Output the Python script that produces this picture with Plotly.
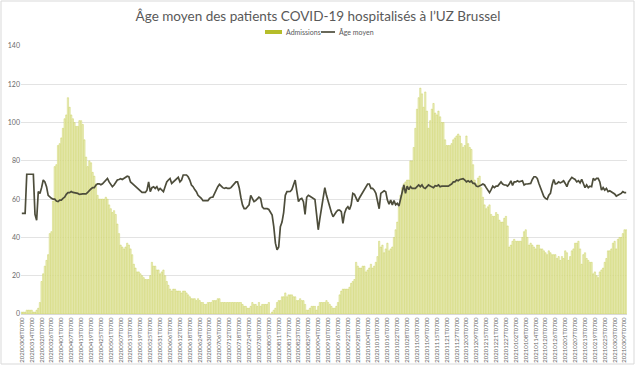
import pandas as pd
import plotly.graph_objects as go

start_date = "2020-03-08"

admissions = [
    1, 1, 1, 2, 2, 2, 2, 1, 1, 2,
    3, 6, 17, 21, 25, 28, 31, 42, 43, 59,
    77, 78, 88, 89, 92, 97, 102, 104, 113, 108,
    104, 102, 100, 98, 98, 101, 101, 99, 91, 82,
    77, 80, 79, 74, 72, 68, 62, 60, 60, 60,
    60, 61, 60, 57, 55, 53, 54, 52, 47, 42,
    36, 35, 34, 35, 37, 36, 34, 31, 26, 24,
    22, 22, 21, 20, 19, 18, 18, 18, 20, 27,
    25, 25, 23, 23, 21, 22, 23, 20, 17, 15,
    13, 12, 13, 13, 12, 12, 12, 11, 12, 12,
    11, 10, 9, 8, 8, 8, 7, 8, 7, 6,
    6, 5, 5, 6, 6, 6, 7, 7, 7, 8,
    8, 6, 6, 6,
    6, 6, 6, 6, 6, 6, 6, 6, 6, 6,
    5, 4, 4, 3, 3, 4, 6, 5, 5, 4,
    6, 4, 5, 5, 5, 5, 6, 0, 1, 2,
    3, 6, 7, 7, 9, 9, 11, 9, 10, 10,
    10, 9, 9, 7, 7, 8, 7, 7, 5, 2,
    2, 3, 4, 4, 4, 2, 4, 6, 6, 6,
    6, 7, 6, 5, 4, 3, 3, 4, 6, 10,
    12, 13, 13, 13, 13, 14, 16, 17, 18, 27,
    25, 24, 24, 25, 25, 22, 23, 24, 26, 24,
    25, 27, 30, 38, 35, 36, 32, 34, 37, 33,
    34, 35, 40, 44, 48, 56, 62, 66, 68, 69,
    70, 70, 80, 80, 87, 97, 107, 113, 118, 115,
    108, 116, 106, 97, 101, 107, 110,
    105, 104, 106, 103, 100, 100, 91, 88, 88, 88,
    89, 91, 92, 93, 94, 93, 89, 87, 88, 93,
    89, 87, 86, 78, 70, 68, 71, 72, 66, 61,
    57, 55, 56, 57, 52, 51, 51, 53, 52, 49,
    48, 48, 50, 51, 46, 35, 36, 38, 39, 38,
    38, 38, 38, 40, 43, 44, 40, 36, 37, 36,
    35, 34, 36, 36, 34, 34, 33, 32, 31, 33,
    32, 31, 31, 31, 29, 30, 28, 30, 29, 33,
    32, 28, 30, 33, 34, 37, 37, 38, 34, 26,
    31, 32, 29, 28, 27, 27, 21, 22, 20, 19,
    22, 23, 24, 27, 29, 33, 33, 34, 37, 38,
    34, 39, 40, 40, 42, 44, 44,
]

age_moyen = [
    52.6, 52.6, 52.6, 73.0, 73.0, 73.0, 73.0, 73.0, 52.0, 49.0,
    64.0, 63.0, 66.0, 70.0, 69.0, 66.5, 62.0, 61.0, 60.4, 60.0,
    60.0, 59.0, 58.7, 59.5, 59.5, 60.4, 61.0, 62.5, 63.4, 63.4,
    64.0, 63.5, 63.4, 63.0, 63.0, 62.5, 62.7, 62.7, 62.7, 62.7,
    63.5, 64.7, 65.3, 66.0, 66.0, 67.4, 68.0, 68.0, 67.5, 68.0,
    68.8, 69.6, 70.8, 69.0, 67.4, 66.5, 67.4, 68.8, 70.0, 70.3,
    70.7, 70.3, 70.8, 71.7, 72.0, 71.7, 69.0, 68.2, 67.4, 66.5,
    65.6, 64.7, 63.9, 63.5, 63.5, 63.5, 64.7, 69.0, 63.9, 66.0,
    66.5, 65.6, 66.5, 64.7, 65.6, 64.7, 63.9, 66.5, 69.0, 70.0,
    70.8, 68.2, 69.0, 70.0, 70.3, 71.4, 69.0, 70.0, 72.6, 72.6,
    72.6, 71.7, 70.0, 67.4, 66.5, 65.0, 63.9, 62.0, 61.3, 60.4,
    59.2, 59.2, 59.2, 59.2, 60.4, 61.0, 61.0, 63.0, 65.0, 66.5,
    67.7, 66.8, 66.0, 65.6,
    66.0, 65.6, 65.6, 66.0, 67.0, 68.0, 69.0, 69.0, 66.0, 61.0,
    57.0, 55.0, 55.0, 56.0, 57.0, 62.0, 60.4, 58.7, 59.2, 60.4,
    61.0, 60.4, 56.0, 55.0, 55.0, 55.0, 54.6, 53.0, 51.7, 45.6,
    37.0, 33.5, 35.0, 45.6, 48.0, 53.0, 62.0, 63.9, 63.9, 64.0,
    65.0, 67.4, 70.0, 64.0, 58.7, 60.0, 60.4, 58.7, 52.0, 61.0,
    62.0, 61.5, 60.8, 60.4, 59.8, 52.0, 44.0, 50.0, 56.0, 62.0,
    66.0, 62.0, 58.5, 56.4, 53.0, 50.8, 52.3, 53.4, 54.3, 54.3,
    53.5, 47.3, 52.6, 55.0, 56.0, 54.6, 57.0, 63.0, 62.5, 60.4,
    58.7, 60.6, 62.0, 63.2, 64.7, 66.5, 67.9, 67.9, 65.6, 65.6,
    64.7, 63.0, 58.7, 55.0, 63.0, 63.9, 64.4, 63.9, 59.5, 57.4,
    59.5, 57.0, 59.2, 57.0, 57.8, 56.4, 60.4, 64.7, 67.4, 63.0,
    66.8, 65.0, 66.5, 65.6, 65.6, 65.6, 66.5, 67.4, 66.5, 67.4,
    66.0, 65.6, 66.5, 67.4, 66.8, 66.5, 66.0,
    67.0, 66.8, 67.4, 66.5, 66.8, 66.8, 66.8, 67.0, 66.8, 67.4,
    67.9, 69.0, 69.0, 70.0, 69.6, 70.3, 70.7, 70.7, 70.0, 69.0,
    69.6, 69.0, 69.5, 68.2, 68.2, 66.8, 66.5, 66.8, 67.4, 67.9,
    67.4, 66.0, 64.7, 63.4, 65.0, 66.8, 66.0, 66.8, 66.8, 68.2,
    69.0, 67.9, 67.4, 67.4, 66.8, 67.9, 69.6, 67.2, 69.0, 69.0,
    69.6, 69.0, 69.5, 69.6, 67.4, 67.9, 67.9, 68.2, 68.2, 70.3,
    71.7, 71.7, 70.8, 68.2, 65.6, 63.0, 61.3, 60.4, 59.9, 62.0,
    63.0, 67.4, 70.3, 67.9, 68.2, 69.0, 68.5, 69.0, 69.6, 68.2,
    66.5, 69.0, 70.0, 71.4, 70.8, 70.3, 69.0, 69.6, 68.5, 70.3,
    68.2, 66.0, 67.4, 66.0, 66.8, 66.5, 70.8, 70.0, 70.8, 70.8,
    69.0, 64.7, 66.0, 64.7, 65.6, 63.9, 64.4, 63.9, 63.4, 62.7,
    61.6, 62.0, 62.7, 63.0, 63.9, 63.4, 63.4,
]

n = len(admissions)
dates = pd.date_range(start_date, periods=n, freq="D")
categories = [d.strftime("%Y%m%dT0700") for d in dates]
tick_step = 6
tick_idx = list(range(0, n, tick_step))
tick_labels = [categories[i] for i in tick_idx]
y_ticks = [0, 20, 40, 60, 80, 100, 120, 140]

x = list(range(n))
BAR_FILL = "#eef0ca"
BAR_EDGE = "#c3c943"
LINE_COL = "#4d4d3b"

fig = go.Figure()
fig.add_trace(go.Bar(
    x=x, y=admissions, name="Admissions",
    marker=dict(color=BAR_FILL, line=dict(color=BAR_EDGE, width=0.4)),
    hovertext=categories, showlegend=False,
))
fig.add_trace(go.Scatter(
    x=x, y=age_moyen, name="Âge moyen", mode="lines",
    line=dict(color=LINE_COL, width=1.7),
    hovertext=categories, showlegend=False,
))

L, R, T, B = 21, 9, 46, 52
W, H = 636, 366
pw, ph = W - L - R, H - T - B


def px_x(p):
    return (p - L) / pw


def px_y(p):
    return (H - B - p) / ph


legend_y = 32
fig.update_layout(
    width=W, height=H,
    margin=dict(l=L, r=R, t=T, b=B),
    paper_bgcolor="white", plot_bgcolor="white",
    font=dict(family="Lato, 'Open Sans', sans-serif", color="#595959"),
    title=dict(
        text="Âge moyen des patients COVID-19 hospitalisés à l’UZ Brussel",
        x=0.5, xanchor="center", y=1 - 16 / H, yanchor="middle",
        font=dict(size=13.5, color="#595959"),
    ),
    showlegend=False,
    bargap=0.2,
    xaxis=dict(
        range=[-0.5, n - 0.5], tickmode="array", tickvals=tick_idx, ticktext=tick_labels,
        tickangle=-90, tickfont=dict(size=6, color="#6a6a6a"),
        showgrid=False, zeroline=False, showline=True, linecolor="#d9d9d9", linewidth=1,
        ticks="", automargin=False,
    ),
    yaxis=dict(
        range=[0, 140], tickmode="array", tickvals=y_ticks,
        tickfont=dict(size=7, color="#6a6a6a"),
        showgrid=True, gridcolor="#e3e3e3", gridwidth=1, zeroline=False,
        showline=False, ticks="", automargin=False,
    ),
    shapes=[
        dict(type="rect", xref="paper", yref="paper",
             x0=px_x(1), x1=px_x(634), y0=px_y(364), y1=px_y(1),
             line=dict(color="#d9d9d9", width=1), fillcolor="rgba(0,0,0,0)", layer="below"),
        dict(type="rect", xref="paper", yref="paper",
             x0=px_x(265), x1=px_x(282), y0=px_y(34), y1=px_y(30),
             line=dict(width=0), fillcolor="#b5bd2a"),
        dict(type="line", xref="paper", yref="paper",
             x0=px_x(321), x1=px_x(335), y0=px_y(legend_y), y1=px_y(legend_y),
             line=dict(color=LINE_COL, width=1.7)),
    ],
    annotations=[
        dict(text="Admissions", xref="paper", yref="paper", x=px_x(284), y=px_y(legend_y),
             xanchor="left", yanchor="middle", showarrow=False,
             font=dict(size=7, color="#595959")),
        dict(text="Âge moyen", xref="paper", yref="paper", x=px_x(337), y=px_y(legend_y),
             xanchor="left", yanchor="middle", showarrow=False,
             font=dict(size=7, color="#595959")),
    ],
)

fig.write_html("out.html", config={"displayModeBar": False},
               post_script="document.body.style.margin='0';")
